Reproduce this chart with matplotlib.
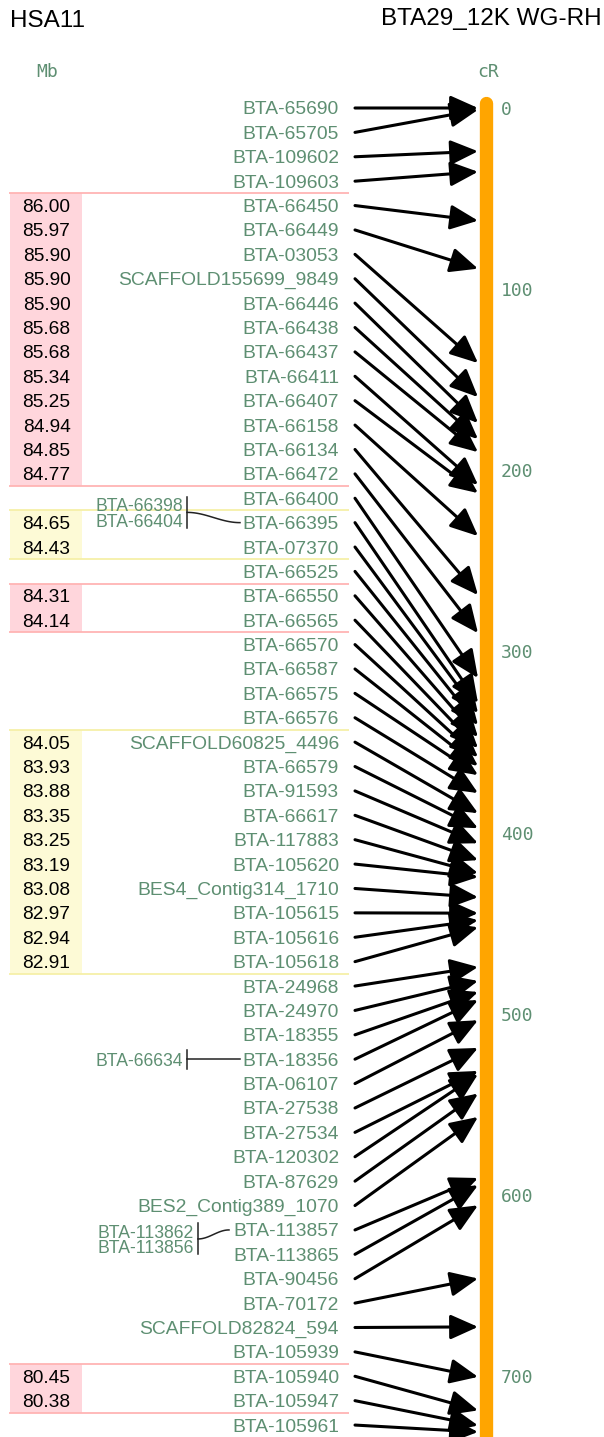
import numpy as np
import matplotlib
matplotlib.use("Agg")
import matplotlib.pyplot as plt
from matplotlib.patches import Rectangle

# marker order on the comparative (HSA11) side, top to bottom
markers = [
    "BTA-65690", "BTA-65705", "BTA-109602", "BTA-109603", "BTA-66450",
    "BTA-66449", "BTA-03053", "SCAFFOLD155699_9849", "BTA-66446", "BTA-66438",
    "BTA-66437", "BTA-66411", "BTA-66407", "BTA-66158", "BTA-66134",
    "BTA-66472", "BTA-66400", "BTA-66395", "BTA-07370", "BTA-66525",
    "BTA-66550", "BTA-66565", "BTA-66570", "BTA-66587", "BTA-66575",
    "BTA-66576", "SCAFFOLD60825_4496", "BTA-66579", "BTA-91593", "BTA-66617",
    "BTA-117883", "BTA-105620", "BES4_Contig314_1710", "BTA-105615", "BTA-105616",
    "BTA-105618", "BTA-24968", "BTA-24970", "BTA-18355", "BTA-18356",
    "BTA-06107", "BTA-27538", "BTA-27534", "BTA-120302", "BTA-87629",
    "BES2_Contig389_1070", "BTA-113857", "BTA-113865", "BTA-90456", "BTA-70172",
    "SCAFFOLD82824_594", "BTA-105939", "BTA-105940", "BTA-105947", "BTA-105961",
]

# RH map position (cR) of each marker
cr_pos = [
    0.0, 1.0, 23.9, 35.2, 62.2, 88.7, 140.8, 159.6, 173.9, 182.8,
    190.0, 208.1, 212.6, 236.3, 268.9, 289.9, 314.7, 328.5, 334.1, 340.7,
    347.3, 353.4, 358.4, 363.3, 368.3, 378.2, 389.3, 397.6, 405.9, 415.2,
    422.4, 424.6, 435.7, 444.5, 448.4, 452.3, 474.2, 481.9, 488.0, 492.5,
    503.6, 518.9, 531.6, 533.4, 544.1, 557.0, 590.7, 594.7, 605.8, 646.2,
    672.9, 700.5, 719.0, 727.3, 730.9,
]

# HSA11 positions (Mb) for the markers that have one
mb_rows = [4, 5, 6, 7, 8, 9, 10, 11, 12, 13, 14, 15,
           17, 18,
           20, 21,
           26, 27, 28, 29, 30, 31, 32, 33, 34, 35,
           52, 53]
mb_values = ["86.00", "85.97", "85.90", "85.90", "85.90", "85.68", "85.68",
             "85.34", "85.25", "84.94", "84.85", "84.77",
             "84.65", "84.43",
             "84.31", "84.14",
             "84.05", "83.93", "83.88", "83.35", "83.25", "83.19", "83.08",
             "82.97", "82.94", "82.91",
             "80.45", "80.38"]

# conserved blocks (first row, last row, orientation)
block_first = [4, 17, 20, 26, 52]
block_last = [15, 18, 21, 35, 53]
block_kind = ["minus", "plus", "minus", "plus", "minus"]

# markers co-located with a mapped marker
alias_rows = [17, 39, 46]
alias_names = [["BTA-66398", "BTA-66404"], ["BTA-66634"], ["BTA-113862", "BTA-113856"]]

cr_ticks = [0, 100, 200, 300, 400, 500, 600, 700]

# ---- layout (pixels) ----
W, H = 604, 1437
TOP = 108          # y of first row and of 0 cR
ROW_PX = 24.39     # pixels per row
CR_PX = 1.8114     # pixels per cR
GREEN = "#5e8f72"
SANS = "Liberation Sans"
MONO = "DejaVu Sans Mono"
fill = {"minus": "#ffd6dc", "plus": "#fdfad6"}
edge = {"minus": "#ffb4b4", "plus": "#f6f0a8"}
alias_shift = [-0.42, 0.0, 0.37]
bracket_x = [187, 187, 198]
curve_end = [240, 240, 229]

fig = plt.figure(figsize=(W / 100, H / 100), dpi=100)
ax = fig.add_axes([0, 0, 1, 1])
ax2 = fig.add_axes([0, 0, 1, 1])
ax.set_xlim(0, W)
ax2.set_xlim(0, W)
ax.set_ylim((H - TOP) / ROW_PX, -TOP / ROW_PX)
ax2.set_ylim((H - TOP) / CR_PX, -TOP / CR_PX)
ax.axis("off")
ax2.axis("off")
ax2.patch.set_visible(False)

fig.text(10 / W, 1 - 21 / H, "HSA11", family=SANS, fontsize=17.5, va="center", ha="left")
fig.text(602 / W, 1 - 19 / H, "BTA29_12K WG-RH", family=SANS, fontsize=17.5, va="center", ha="right")
fig.text(47 / W, 1 - 72 / H, "Mb", family=MONO, fontsize=13, color=GREEN, va="center", ha="center")
fig.text(488 / W, 1 - 72 / H, "cR", family=MONO, fontsize=13, color=GREEN, va="center", ha="center")

# conserved blocks
for a, b, k in zip(block_first, block_last, block_kind):
    ax.add_patch(Rectangle((10, a - 0.5), 72, b - a + 1, facecolor=fill[k], edgecolor="none", zorder=0))
    ax.hlines([a - 0.5, b + 0.5], 9, 349, color=edge[k], lw=1.3, zorder=1)

for r, v in zip(mb_rows, mb_values):
    ax.text(46.5, r, v, family=SANS, fontsize=13.8, ha="center", va="center_baseline", color="black")

# marker names
for i, name in enumerate(markers):
    ax.text(339, i, name, family=SANS, fontsize=13.9, ha="right", va="center_baseline", color=GREEN)

# co-located markers with brackets
for row, names, shift, bx, ex in zip(alias_rows, alias_names, alias_shift, bracket_x, curve_end):
    centre = row + shift
    n = len(names)
    for k, nm in enumerate(names):
        ax.text(bx - 4, centre + (k - (n - 1) / 2) * 0.64, nm, family=SANS, fontsize=12.7,
                ha="right", va="center_baseline", color=GREEN)
    half = 0.39 + 0.245 * (n - 1)
    ax.plot([bx, bx], [centre - half, centre + half], color="#222222", lw=1.1)
    xs = np.linspace(bx, ex, 60)
    t = (xs - bx) / (ex - bx)
    ax.plot(xs, centre + (row - centre) * (1 - np.cos(np.pi * t)) / 2, color="#222222", lw=1.1)

# arrows from marker rows to RH map positions
for i, c in enumerate(cr_pos):
    ax.annotate("", xy=(478, c), xycoords=ax2.transData, xytext=(355, i), textcoords=ax.transData,
                arrowprops=dict(arrowstyle="-|>,head_length=0.85,head_width=0.38", mutation_scale=20,
                                lw=2.2, color="black", shrinkA=0, shrinkB=0))

# the RH map itself
ax2.plot([486, 486], [-3, 760], color="#FFA500", lw=9.6, solid_capstyle="round", zorder=5)
for t in cr_ticks:
    ax2.text(501, t, str(t), family=MONO, fontsize=13, ha="left", va="center_baseline", color=GREEN)

fig.savefig("out.png", dpi=100)
